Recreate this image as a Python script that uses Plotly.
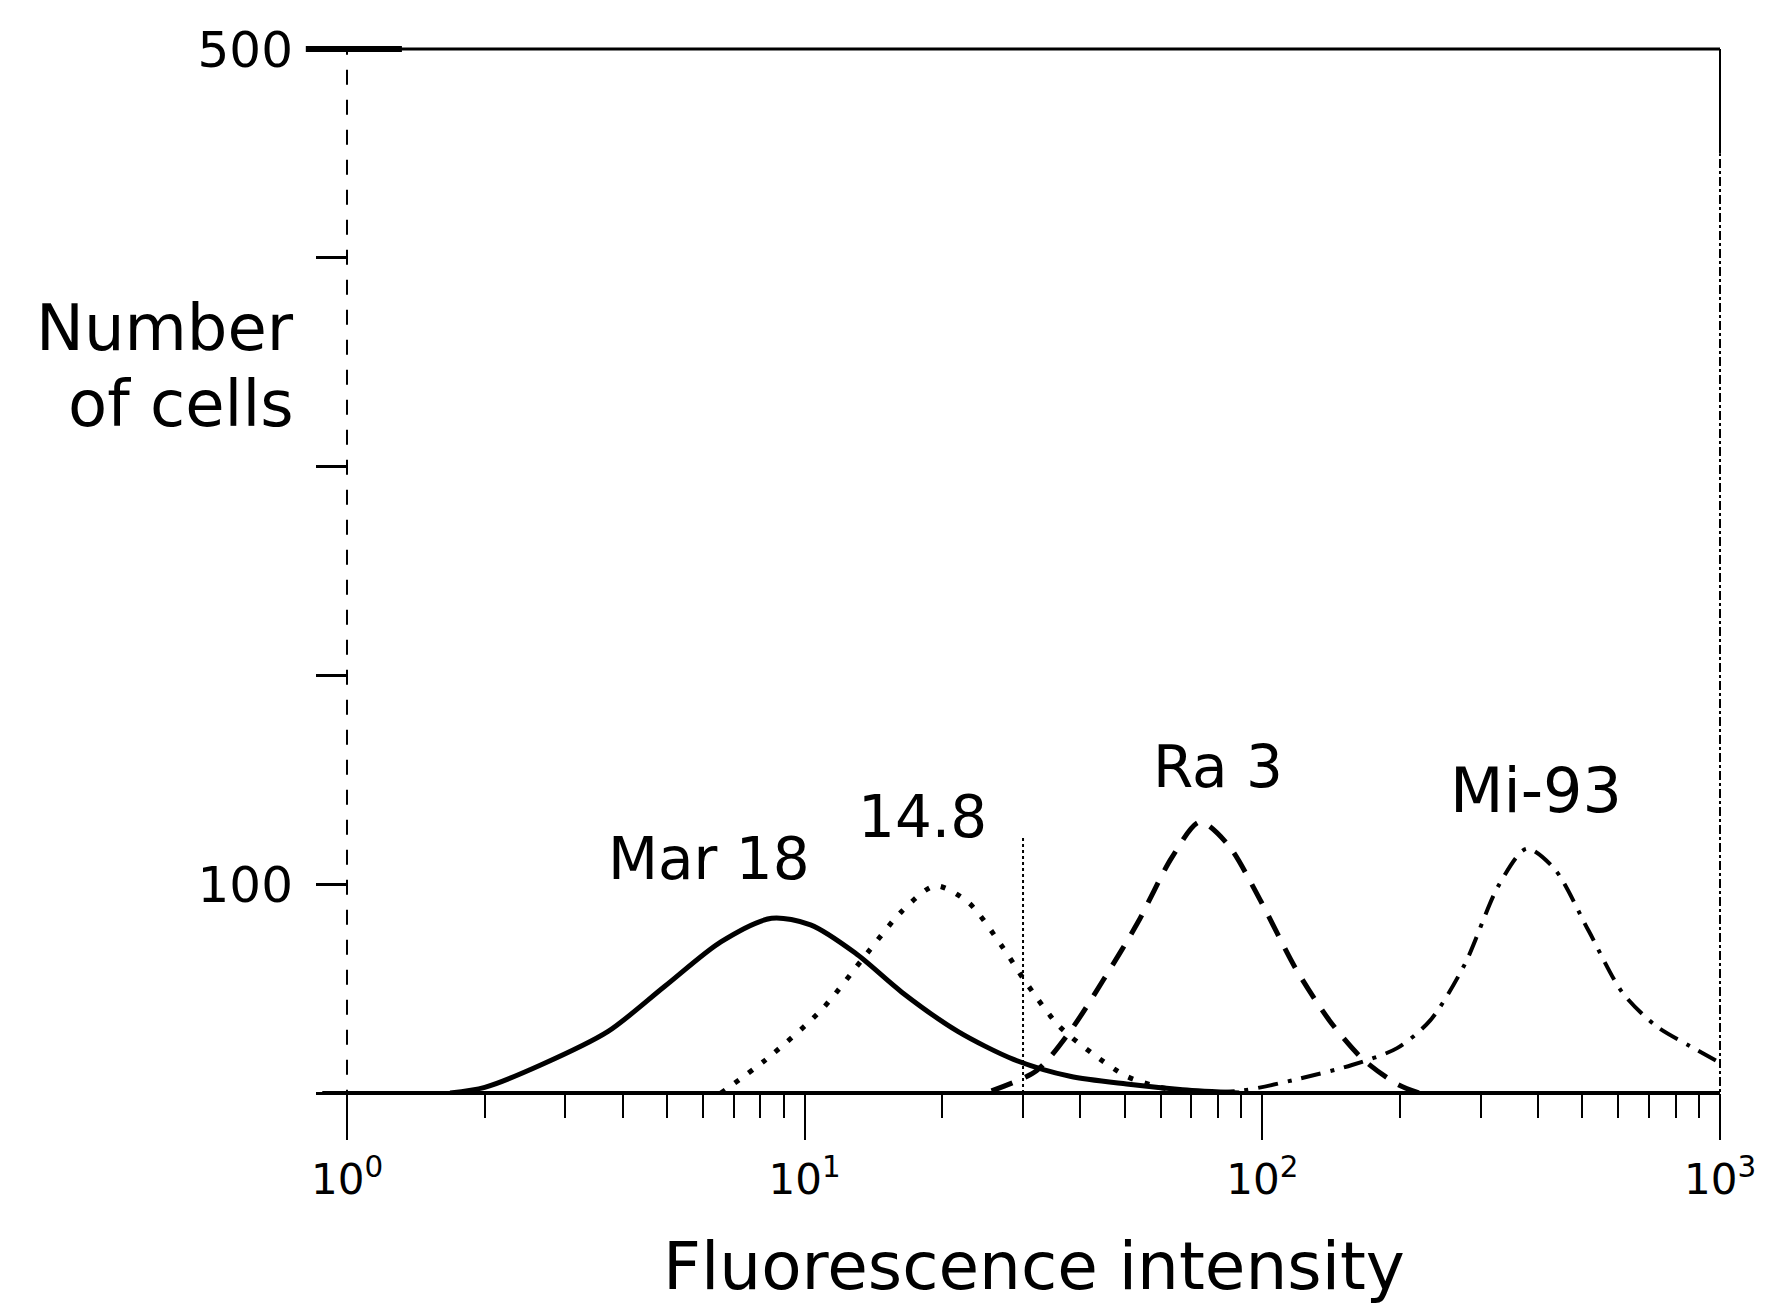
import math
import plotly.graph_objects as go

# ---- data ----
mar18_x = [1.68, 2.0, 2.65, 3.72, 4.94, 6.56, 8.47, 10.3, 12.9, 16.3, 21.6, 28.6, 38, 50.5, 67, 89]
mar18_y = [0, 2.7, 13.4, 29.5, 51, 72.4, 83.7, 80.5, 67, 48.3, 29.5, 16.1, 8, 4.3, 1.6, 0]

c148_x = [6.56, 8.23, 10.9, 13.7, 16.3, 19.3, 22.8, 27.1, 30.3, 35.9, 42.6, 50.5, 59.8, 71]
c148_y = [0, 16, 40, 67, 87, 99.2, 91.2, 69.7, 53.6, 32.2, 18.8, 8, 2.7, 0]

ra3_x = [25.6, 32.1, 38, 45.1, 53.4, 63.4, 73, 84.1, 99.6, 118, 140, 166, 197, 220]
ra3_y = [1, 10.7, 29.5, 54.7, 81.5, 112.7, 129.8, 119, 91.2, 60, 34.9, 16.1, 4.3, 0]

mi93_x = [50.5, 89, 118, 157, 197, 233, 277, 328, 378, 435, 516, 611, 724, 859, 989]
mi93_y = [0, 1, 6.4, 13.4, 21.5, 34.9, 61.7, 99.2, 117, 107.3, 77.8, 48.3, 32.2, 22.5, 15]

gate_x = [30, 30]
gate_y = [0, 123]

labels = ["Mar 18", "14.8", "Ra 3", "Mi-93"]
label_x = [6.18, 18.1, 80, 397]
label_y = [112, 132, 156, 145]

y_tickvals = [0, 100, 200, 300, 400, 500]
y_ticktext = ["", "100", "", "", "", "500"]
x_tickvals = [1, 10, 100, 1000]
x_ticktext = ["10<sup>0</sup>", "10<sup>1</sup>", "10<sup>2</sup>", "10<sup>3</sup>"]
x_minor = [m * 10 ** d for d in range(3) for m in range(2, 10)]

FONT = "DejaVu Sans"

fig = go.Figure()
fig.add_trace(go.Scatter(x=mar18_x, y=mar18_y, mode="lines",
                         line=dict(color="black", width=5, shape="spline", smoothing=0.8), name="Mar 18"))
fig.add_trace(go.Scatter(x=c148_x, y=c148_y, mode="lines",
                         line=dict(color="black", width=5, dash="5px,12px", shape="spline", smoothing=0.8), name="14.8"))
fig.add_trace(go.Scatter(x=ra3_x, y=ra3_y, mode="lines",
                         line=dict(color="black", width=5, dash="22px,14px", shape="spline", smoothing=0.8), name="Ra 3"))
fig.add_trace(go.Scatter(x=mi93_x, y=mi93_y, mode="lines",
                         line=dict(color="black", width=4, dash="20px,10px,4px,10px", shape="spline", smoothing=0.8), name="Mi-93"))
fig.add_trace(go.Scatter(x=gate_x, y=gate_y, mode="lines",
                         line=dict(color="black", width=2, dash="dot"), name="gate"))

for t, lx, ly in zip(labels, label_x, label_y):
    fig.add_annotation(x=math.log10(lx), y=ly, xref="x", yref="y", text=t, showarrow=False,
                       font=dict(family=FONT, size=58 if t != "Mi-93" else 62, color="black"),
                       xanchor="center", yanchor="middle")

# Frame lines
fig.add_shape(type="line", xref="paper", yref="paper", x0=0, x1=1, y0=1, y1=1, line=dict(color="black", width=3))
fig.add_shape(type="line", xref="paper", yref="paper", x0=-0.03, x1=0.04, y0=1, y1=1, line=dict(color="black", width=6))
fig.add_shape(type="line", xref="paper", yref="paper", x0=-0.018, x1=1, y0=0, y1=0, line=dict(color="black", width=4))
fig.add_shape(type="line", xref="paper", yref="paper", x0=0, x1=0, y0=-0.04, y1=1, line=dict(color="black", width=2, dash="longdash"))
fig.add_shape(type="line", xref="paper", yref="paper", x0=1, x1=1, y0=-0.045, y1=0.9, line=dict(color="black", width=2, dash="dashdot"))
fig.add_shape(type="line", xref="paper", yref="paper", x0=1, x1=1, y0=0.9, y1=1, line=dict(color="black", width=2))

# Y title (two lines, tighter spacing than default)
fig.add_annotation(x=-0.038, y=348, xref="paper", yref="y", text="Number", showarrow=False, borderpad=0,
                   xanchor="right", yanchor="bottom", font=dict(family=FONT, size=64, color="black"))
fig.add_annotation(x=-0.038, y=348, xref="paper", yref="y", text="of cells", showarrow=False, borderpad=0,
                   xanchor="right", yanchor="top", font=dict(family=FONT, size=64, color="black"))
# X title
fig.add_annotation(x=0.5, y=-0.205, xref="paper", yref="paper", text="Fluorescence intensity", showarrow=False,
                   xanchor="center", yanchor="bottom", font=dict(family=FONT, size=66, color="black"))

fig.update_layout(
    width=1765, height=1313,
    margin=dict(l=339, r=53, t=35, b=228),
    paper_bgcolor="white", plot_bgcolor="white",
    showlegend=False,
    font=dict(family=FONT, color="black"),
)
fig.update_xaxes(type="log", range=[0, 3], showgrid=False, zeroline=False, showline=False,
                 tickvals=x_tickvals, ticktext=x_ticktext, ticks="outside", ticklen=46, tickwidth=2,
                 tickcolor="black", ticklabelstandoff=4, tickfont=dict(family=FONT, size=42, color="black"),
                 minor=dict(tickvals=x_minor, ticks="outside", ticklen=24, tickwidth=2, tickcolor="black", showgrid=False))
fig.update_yaxes(range=[0, 500], showgrid=False, zeroline=False, showline=False,
                 tickvals=y_tickvals, ticktext=y_ticktext, ticks="outside", ticklen=30, tickwidth=3,
                 tickcolor="black", ticklabelstandoff=13, tickfont=dict(family=FONT, size=50, color="black"))

fig.write_html("out.html")
